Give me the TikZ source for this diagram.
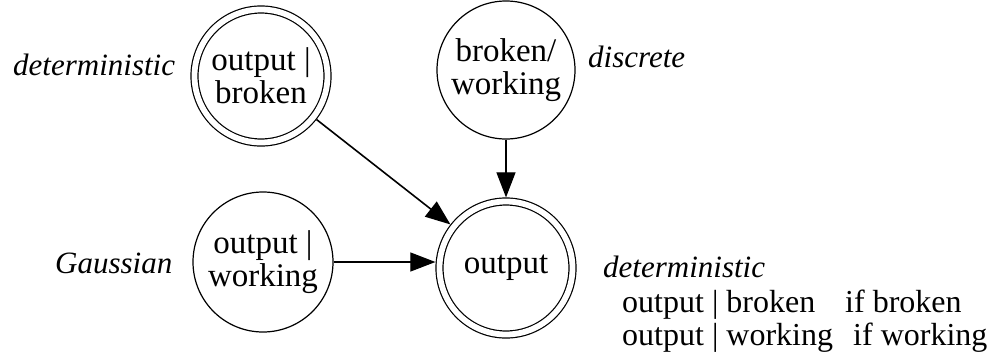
\documentclass[tikz,border=0pt]{standalone}
\usepackage{fontspec}
\setmainfont{Liberation Serif}
\usetikzlibrary{arrows.meta}
\begin{document}
\begin{tikzpicture}[x=1pt,y=-1pt,
  nodetext/.style={font=\fontsize{33}{33}\selectfont, align=center, inner sep=0pt},
  single/.style={circle, draw, line width=1.2pt, minimum size=140pt, nodetext},
  dbl/.style={circle, draw, line width=1.2pt, double, double distance=5.8pt, minimum size=133pt, outer sep=4.1pt, nodetext},
  lbl/.style={font=\fontsize{31}{33}\selectfont\itshape, inner sep=0pt, anchor=base west},
  txt/.style={font=\fontsize{32}{33}\selectfont, inner sep=0pt, anchor=base west},
  arr/.style={-{Triangle[length=25pt,width=19pt]}, line width=1.1pt}
]
\useasboundingbox (0,0) rectangle (998,354);
\node[dbl] (A) at (261,76) {output |\\broken};
\node[single, minimum size=138pt] (B) at (506,70) {broken/\\working};
\node[single] (C) at (263,262) {output |\\working};
\node[dbl] (D) at (506,268) {output};

\node[lbl] (la) at (13,75) {deterministic};
\node[lbl] (lb) at (588,67) {discrete};
\node[lbl] (lc) at (55,273) {Gaussian};
\node[lbl] (ld) at (603,277) {deterministic};
\node[txt] (l1) at (622,312) {output | broken};
\node[txt] (l1b) at (845,312) {if broken};
\node[txt] (l2) at (622,345) {output | working};
\node[txt] (l2b) at (853,345) {if working};

\draw[arr, line width=1.6pt] (A) -- (D);
\draw[arr] (B) -- (D);
\draw[arr] (C.east) -- (C.east -| D.west);
\end{tikzpicture}
\end{document}
